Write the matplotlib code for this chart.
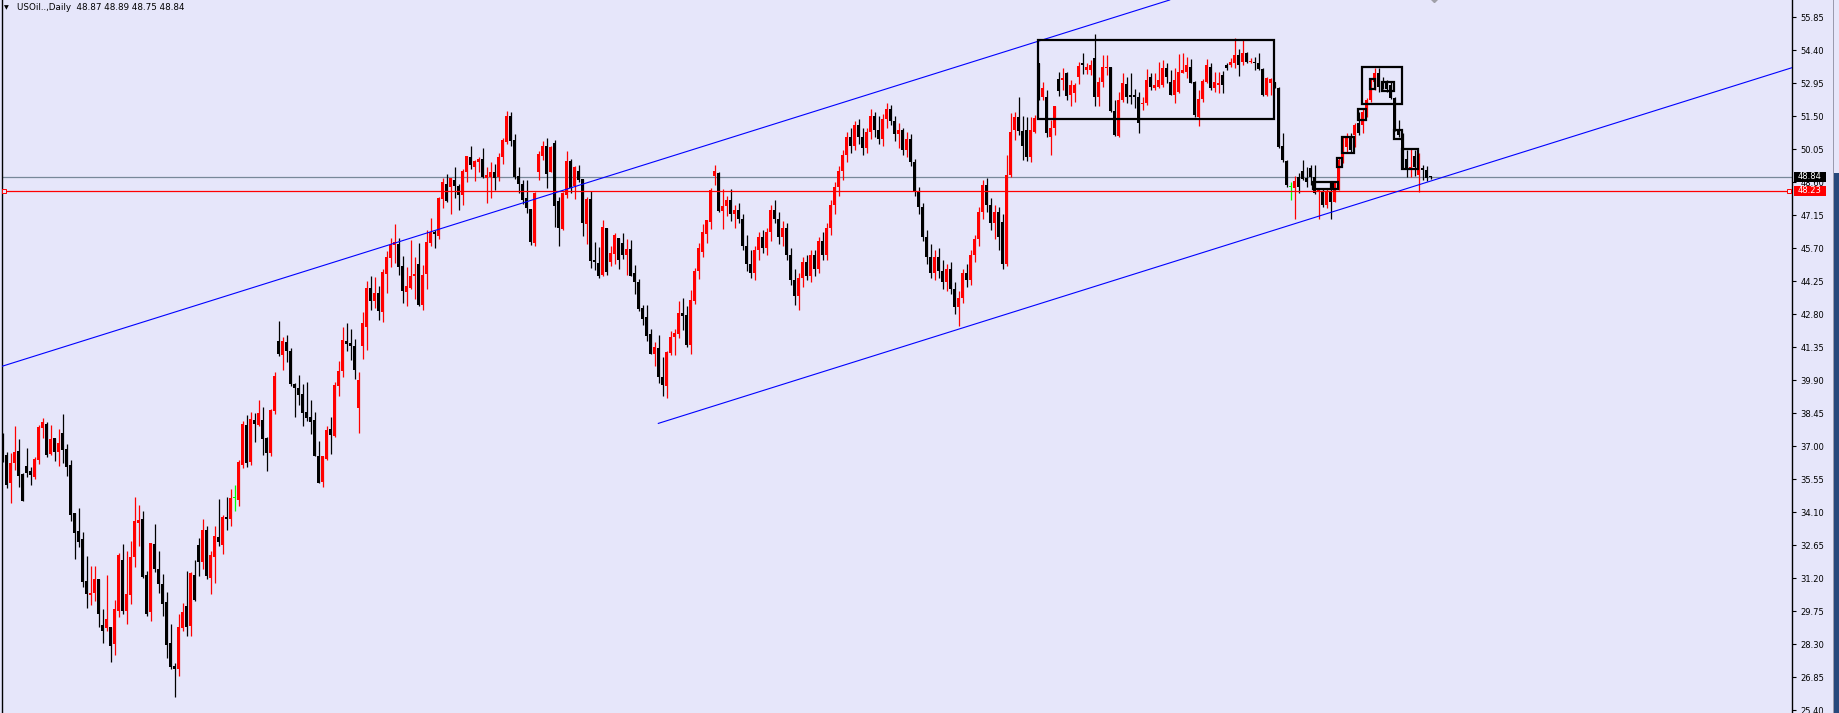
import matplotlib.pyplot as plt
import matplotlib.patches as patches
import matplotlib.transforms as mtransforms
import numpy as np

plt.rcParams['font.family'] = ['DejaVu Sans']

# daily OHLC, oldest first
opens = [
    37.27, 36.61, 35.37, 36.25, 36.79, 35.78, 36.13, 35.92, 35.66, 36.39,
    37.80, 37.97, 36.66, 37.36, 36.76, 37.58, 36.88, 36.17, 34.06, 33.27,
    32.92, 31.07, 30.47, 30.56, 31.16, 29.12, 29.01, 29.04, 28.30, 29.77,
    32.00, 29.77, 30.46, 32.13, 33.61, 33.80, 31.34, 29.71, 32.70, 31.60,
    30.94, 30.15, 28.35, 27.34, 27.22, 29.01, 29.97, 29.10, 31.34, 32.66,
    31.91, 33.32, 31.21, 32.13, 33.01, 32.66, 33.89, 33.80, 34.71, 34.64,
    36.17, 37.93, 36.30, 38.15, 37.93, 38.15, 37.36, 36.70, 38.54, 41.62,
    41.01, 41.58, 41.18, 39.73, 39.55, 39.29, 38.50, 38.28, 38.15, 36.57,
    35.42, 36.43, 37.75, 37.45, 39.64, 40.30, 41.62, 41.53, 41.40, 38.68,
    41.40, 42.23, 43.95, 43.38, 43.73, 42.89, 44.56, 45.27, 45.84, 45.88,
    44.91, 43.77, 43.95, 44.47, 45.00, 43.20, 44.56, 45.92, 46.41, 46.23,
    47.86, 48.52, 48.39, 48.69, 48.43, 48.03, 49.05, 49.70, 49.27, 49.49,
    49.62, 48.79, 48.83, 49.05, 48.83, 49.71, 50.37, 51.50, 50.46, 48.88,
    48.53, 47.91, 47.43, 45.93, 49.05, 49.76, 50.20, 49.05, 50.33, 47.78,
    46.55, 48.04, 49.54, 48.44, 49.10, 48.75, 46.77, 47.87, 45.19, 45.05,
    44.53, 46.59, 45.10, 45.45, 46.15, 45.93, 45.41, 45.67, 44.61, 44.22,
    43.08, 42.68, 41.93, 41.05, 41.32, 40.04, 39.65, 41.10, 41.80, 41.93,
    42.86, 42.77, 41.45, 43.38, 44.70, 45.54, 46.33, 46.86, 48.88, 49.01,
    47.34, 47.56, 47.80, 47.20, 47.40, 47.00, 45.80, 45.00, 44.60, 45.60,
    46.20, 45.70, 46.40, 47.40, 47.00, 46.20, 46.60, 45.40, 44.30, 43.60,
    44.40, 45.10, 44.50, 45.40, 44.80, 46.00, 45.40, 46.60, 47.60, 48.40,
    49.10, 49.80, 50.60, 50.20, 51.10, 50.60, 50.10, 50.80, 51.50, 50.90,
    50.50, 51.40, 51.80, 51.30, 50.70, 50.90, 50.00, 50.50, 49.50, 48.20,
    47.50, 46.20, 45.30, 44.60, 45.30, 44.70, 44.20, 44.80, 43.90, 43.10,
    43.50, 44.60, 44.30, 45.40, 46.10, 47.30, 48.50, 47.60, 46.80, 47.30,
    46.87, 45.00, 48.92, 50.89, 51.48, 50.86, 50.89, 49.72, 50.82, 53.83,
    52.33, 52.33, 50.60, 50.97, 53.12, 53.09, 53.39, 52.43, 52.51, 53.21,
    53.83, 53.53, 53.53, 54.05, 52.36, 53.02, 53.60, 53.68, 51.74, 50.63,
    52.21, 52.92, 52.43, 52.43, 52.36, 52.04, 52.07, 53.21, 52.73, 52.80,
    52.87, 53.60, 53.02, 52.43, 52.58, 53.41, 53.46, 53.68, 53.02, 51.48,
    52.24, 53.02, 53.68, 52.73, 52.87, 53.31, 53.75, 53.75, 53.83, 54.19,
    53.90, 54.26, 53.88, 53.90, 53.85, 53.56, 52.43, 52.95, 53.02, 52.73,
    50.19, 49.55, 48.37, 48.33, 48.84, 49.11, 48.77, 49.21, 48.84, 48.18,
    48.18, 47.60, 48.18, 47.74, 48.55, 49.58, 50.16, 50.63, 50.68, 51.19,
    51.11, 51.63, 52.21, 53.02, 53.39, 53.02, 52.98, 52.87, 52.29, 50.89,
    50.68, 49.61, 49.24, 49.75, 48.92, 49.21, 49.14, 48.87,
]
highs = [
    37.57, 36.76, 36.69, 37.89, 37.30, 35.81, 36.93, 36.10, 36.54, 37.93,
    38.24, 38.06, 37.93, 37.36, 37.76, 38.41, 37.10, 36.39, 34.06, 34.27,
    33.24, 32.17, 31.73, 31.73, 31.16, 29.83, 31.35, 29.04, 30.24, 32.32,
    32.70, 32.39, 32.83, 34.77, 34.42, 34.15, 31.51, 32.74, 33.58, 32.39,
    31.38, 30.59, 29.19, 27.47, 29.62, 30.11, 31.51, 31.47, 32.00, 32.96,
    33.80, 33.49, 32.39, 33.49, 34.68, 33.98, 34.77, 35.12, 35.29, 36.39,
    38.11, 38.37, 38.50, 38.46, 39.03, 38.72, 37.40, 38.63, 40.26, 42.50,
    41.80, 41.88, 41.31, 39.77, 40.13, 39.73, 39.82, 39.03, 38.50, 37.22,
    36.57, 37.88, 38.28, 39.82, 40.74, 42.24, 42.41, 42.15, 41.71, 40.26,
    42.90, 44.25, 44.47, 44.43, 44.03, 44.78, 45.57, 46.14, 46.76, 46.14,
    45.35, 44.87, 46.06, 45.31, 45.92, 44.96, 46.50, 47.02, 46.50, 47.95,
    48.78, 48.96, 48.78, 49.27, 48.52, 49.18, 49.75, 50.19, 49.57, 49.70,
    50.10, 49.27, 49.49, 49.41, 49.89, 50.55, 51.75, 51.70, 50.72, 49.27,
    48.70, 48.70, 47.43, 48.17, 49.98, 50.42, 50.55, 50.20, 50.46, 47.96,
    48.17, 49.98, 49.63, 49.32, 49.36, 48.75, 47.96, 48.22, 45.98, 45.76,
    46.94, 46.59, 45.80, 46.37, 46.15, 46.37, 46.11, 46.06, 44.97, 44.35,
    43.21, 43.21, 42.15, 41.58, 41.89, 40.92, 41.19, 42.06, 42.15, 43.38,
    43.51, 43.16, 43.87, 44.83, 45.93, 46.77, 46.94, 48.35, 49.36, 49.05,
    48.31, 48.00, 48.30, 47.60, 47.70, 47.20, 46.30, 45.60, 45.80, 46.40,
    46.50, 46.60, 47.60, 47.80, 47.30, 46.90, 46.80, 45.70, 44.80, 44.60,
    45.30, 45.40, 45.60, 45.60, 46.20, 46.40, 46.80, 47.80, 48.60, 49.30,
    50.00, 50.80, 51.00, 51.30, 51.40, 51.00, 51.00, 51.80, 51.70, 51.50,
    51.60, 52.10, 52.00, 51.50, 51.20, 51.00, 50.80, 50.70, 49.60, 48.40,
    47.70, 46.50, 45.90, 45.60, 45.70, 45.20, 45.00, 45.10, 44.20, 43.80,
    44.80, 45.00, 45.60, 46.30, 47.50, 48.70, 48.80, 47.90, 47.60, 47.50,
    47.20, 49.80, 51.63, 51.70, 52.33, 51.51, 51.48, 51.48, 51.55, 53.83,
    53.02, 52.65, 51.34, 51.95, 53.46, 53.60, 53.46, 53.09, 52.95, 53.90,
    54.26, 53.85, 53.97, 55.11, 53.24, 54.19, 54.19, 53.68, 52.21, 52.58,
    53.41, 53.24, 53.41, 52.68, 52.58, 52.36, 53.56, 53.39, 53.41, 53.90,
    53.97, 53.83, 53.53, 53.60, 54.24, 54.26, 54.12, 54.00, 53.05, 52.65,
    53.12, 54.00, 53.83, 53.46, 53.43, 53.50, 53.83, 54.05, 54.92, 54.44,
    54.85, 54.34, 54.05, 54.12, 54.29, 53.60, 53.24, 53.17, 53.02, 52.80,
    50.75, 49.58, 48.62, 48.87, 48.99, 49.58, 49.28, 49.36, 49.36, 48.33,
    48.33, 48.33, 48.55, 48.64, 49.65, 50.60, 50.75, 50.75, 51.19, 51.70,
    51.80, 52.29, 53.12, 53.60, 53.60, 53.21, 53.09, 53.02, 52.36, 51.34,
    50.75, 50.02, 50.09, 50.02, 49.87, 49.36, 49.32, 48.89,
]
lows = [
    36.32, 35.15, 34.52, 35.95, 35.22, 34.61, 35.66, 35.29, 35.57, 36.22,
    37.37, 36.54, 36.61, 36.35, 36.14, 36.28, 35.69, 33.73, 32.04, 32.58,
    30.82, 29.90, 30.03, 30.21, 29.07, 28.33, 28.89, 27.53, 27.82, 29.51,
    29.62, 29.19, 30.06, 31.69, 32.61, 31.21, 29.54, 29.33, 31.47, 30.55,
    29.54, 27.69, 27.21, 25.99, 26.90, 28.88, 28.66, 28.66, 30.20, 31.30,
    31.60, 31.16, 30.50, 30.99, 32.61, 32.26, 33.32, 33.49, 34.15, 34.37,
    36.04, 36.08, 36.17, 37.18, 37.88, 36.61, 35.91, 36.57, 38.41, 40.96,
    40.35, 40.70, 39.64, 38.28, 38.81, 37.88, 38.10, 37.53, 36.57, 35.38,
    35.20, 36.39, 36.65, 37.40, 39.20, 40.04, 41.18, 40.79, 39.95, 37.58,
    40.83, 41.22, 42.98, 43.07, 42.54, 42.45, 43.73, 44.87, 45.05, 44.52,
    43.29, 43.16, 43.90, 43.46, 43.16, 42.98, 43.90, 45.79, 45.70, 46.10,
    47.46, 47.73, 47.20, 47.90, 47.38, 47.60, 48.61, 49.18, 48.65, 49.05,
    48.78, 47.69, 47.91, 48.26, 48.66, 49.41, 50.29, 50.20, 48.75, 48.13,
    47.65, 47.25, 45.85, 45.80, 48.70, 49.58, 48.35, 49.05, 46.64, 45.80,
    46.51, 47.91, 48.13, 47.87, 48.61, 46.24, 45.89, 44.83, 44.75, 44.39,
    44.48, 44.53, 44.92, 45.01, 44.79, 45.23, 44.53, 44.48, 43.69, 42.94,
    42.33, 41.62, 41.05, 40.53, 39.78, 39.21, 39.12, 41.01, 41.01, 41.76,
    42.11, 41.36, 41.05, 43.25, 44.35, 45.32, 45.93, 46.55, 48.48, 47.30,
    46.55, 47.10, 46.90, 46.60, 46.80, 45.60, 44.70, 44.40, 44.30, 45.20,
    45.50, 45.40, 46.00, 46.80, 45.90, 45.80, 45.20, 44.10, 43.20, 43.00,
    44.00, 44.30, 44.20, 44.50, 44.60, 45.20, 45.20, 46.30, 47.20, 48.00,
    48.70, 49.50, 49.90, 50.00, 50.30, 49.80, 49.90, 50.50, 50.60, 50.30,
    50.20, 51.00, 51.10, 50.40, 50.10, 49.80, 49.70, 49.30, 48.00, 47.20,
    46.00, 45.00, 44.40, 44.30, 44.40, 43.90, 43.80, 43.70, 42.80, 42.30,
    43.30, 44.00, 44.10, 45.10, 45.80, 47.00, 47.30, 46.50, 46.10, 45.60,
    44.80, 44.90, 48.84, 50.46, 50.68, 49.58, 49.55, 49.50, 50.75, 52.21,
    52.21, 50.60, 49.80, 50.68, 52.39, 52.65, 52.21, 51.95, 52.14, 52.92,
    53.36, 53.34, 53.31, 51.95, 51.95, 52.80, 53.31, 51.70, 50.63, 50.60,
    52.14, 52.07, 52.02, 51.85, 50.78, 51.77, 51.99, 52.65, 52.65, 52.73,
    52.80, 52.95, 52.43, 52.10, 52.51, 53.39, 53.17, 52.95, 51.48, 51.07,
    52.14, 52.95, 52.65, 52.58, 52.54, 52.54, 53.53, 53.68, 53.60, 53.27,
    53.75, 53.83, 53.83, 53.53, 53.53, 52.39, 52.39, 52.43, 52.73, 50.09,
    49.50, 48.40, 47.82, 46.97, 48.11, 48.70, 48.40, 48.48, 48.08, 46.97,
    47.52, 47.45, 46.97, 47.74, 48.26, 49.43, 49.94, 49.90, 50.16, 50.68,
    50.75, 51.48, 52.14, 52.65, 52.58, 52.68, 52.58, 52.24, 50.86, 50.60,
    49.17, 48.84, 48.84, 48.87, 48.15, 48.70, 48.67, 48.75,
]
closes = [
    36.54, 35.29, 36.25, 36.76, 35.69, 34.61, 35.84, 35.75, 36.44, 37.86,
    38.06, 36.61, 37.30, 36.76, 37.15, 36.83, 36.10, 33.98, 33.20, 32.80,
    31.04, 30.52, 30.56, 31.16, 29.62, 28.89, 29.40, 28.22, 29.83, 32.22,
    29.77, 30.50, 32.13, 33.71, 33.76, 31.25, 29.62, 32.74, 31.60, 30.94,
    30.06, 28.26, 27.29, 27.22, 29.05, 29.71, 29.05, 31.44, 30.24, 31.91,
    33.32, 31.30, 32.22, 33.05, 32.79, 33.89, 33.80, 34.72, 34.71, 36.31,
    37.97, 36.26, 38.19, 37.97, 38.46, 37.31, 36.70, 38.59, 40.08, 41.05,
    41.62, 41.18, 39.73, 39.55, 39.25, 38.46, 38.24, 38.06, 36.57, 35.38,
    36.57, 37.71, 37.49, 39.69, 40.30, 41.66, 41.49, 41.40, 40.35, 39.91,
    42.41, 43.95, 43.38, 43.73, 42.94, 44.65, 45.31, 45.84, 45.97, 44.87,
    43.82, 44.03, 44.47, 44.56, 43.20, 44.52, 45.97, 46.41, 46.32, 47.90,
    48.61, 47.77, 48.78, 48.43, 48.03, 49.09, 49.75, 49.35, 49.53, 49.62,
    48.83, 48.92, 49.05, 48.79, 49.71, 50.46, 51.50, 50.43, 48.83, 48.53,
    47.82, 47.47, 45.98, 48.13, 49.85, 50.20, 48.97, 50.15, 47.56, 46.59,
    48.13, 49.54, 48.35, 49.27, 48.70, 46.81, 47.87, 45.14, 45.10, 44.48,
    46.64, 44.66, 45.49, 46.28, 45.19, 45.41, 45.67, 44.48, 44.22, 43.03,
    42.59, 41.84, 41.05, 41.36, 40.04, 39.69, 41.14, 41.80, 41.98, 42.86,
    42.72, 41.45, 43.43, 44.70, 45.71, 46.42, 46.94, 48.26, 49.10, 47.34,
    47.56, 47.80, 47.20, 47.40, 47.00, 45.80, 45.00, 44.60, 45.60, 46.20,
    45.70, 46.40, 47.40, 47.00, 46.20, 46.60, 45.40, 44.30, 43.60, 44.40,
    45.10, 44.50, 45.40, 44.80, 46.00, 45.40, 46.60, 47.60, 48.40, 49.10,
    49.80, 50.60, 50.20, 51.10, 50.60, 50.10, 50.80, 51.50, 50.90, 50.50,
    51.40, 51.80, 51.30, 50.70, 50.90, 50.00, 50.50, 49.50, 48.20, 47.50,
    46.20, 45.30, 44.60, 45.30, 44.70, 44.20, 44.80, 43.90, 43.10, 43.50,
    44.60, 44.30, 45.40, 46.10, 47.30, 48.50, 47.60, 46.80, 47.30, 46.20,
    45.00, 48.92, 50.79, 51.48, 50.86, 50.19, 49.72, 50.89, 51.41, 52.33,
    52.73, 50.75, 50.97, 51.95, 52.62, 53.17, 52.39, 52.87, 52.87, 53.71,
    53.77, 53.68, 53.75, 52.36, 53.02, 53.68, 53.68, 51.74, 50.68, 52.21,
    52.95, 52.36, 52.33, 52.36, 51.19, 52.10, 53.09, 52.80, 52.87, 53.09,
    53.60, 53.24, 52.43, 53.09, 53.46, 53.53, 53.75, 52.98, 51.55, 52.24,
    53.05, 53.75, 52.73, 53.02, 52.95, 52.87, 53.60, 53.90, 54.19, 53.75,
    54.26, 53.90, 53.93, 53.85, 53.56, 52.43, 53.17, 53.12, 52.73, 50.16,
    49.58, 48.48, 48.37, 48.65, 48.40, 48.73, 48.62, 48.84, 48.11, 48.26,
    47.60, 48.18, 47.74, 48.55, 49.58, 50.53, 50.63, 50.02, 51.11, 50.75,
    51.70, 52.21, 53.09, 53.39, 52.80, 52.80, 52.68, 52.29, 50.89, 50.68,
    49.21, 49.21, 49.28, 49.28, 49.28, 49.14, 48.78, 48.84,
]

price_ticks = [25.40, 26.85, 28.30, 29.75, 31.20, 32.65, 34.10, 35.55, 37.00,
               38.45, 39.90, 41.35, 42.80, 44.25, 45.70, 47.15, 48.60, 50.05,
               51.50, 52.95, 54.40, 55.85]
last_price = 48.84
level_price = 48.23
header = 'USOil..,Daily  48.87 48.89 48.75 48.84'

# trend lines: (bar index, price) anchor pairs
upper_line = [(59.3, 43.79), (249.3, 54.27)]
lower_line = [(163.9, 38.00), (389.75, 50.46)]

# rectangles: bar from, bar to, price low, price high
boxes = [
    (258.9, 317.8, 51.37, 54.85),
    (339.75, 349.9, 52.04, 53.68),
    (327.6, 332.0, 48.29, 48.62),
    (332.65, 333.9, 48.29, 48.62),
    (333.65, 334.9, 49.28, 49.65),
    (334.75, 337.9, 49.87, 50.60),
    (338.75, 340.9, 51.34, 51.81),
    (341.75, 343.1, 52.69, 53.12),
    (344.75, 347.9, 52.61, 52.99),
    (347.75, 349.9, 50.49, 50.90),
    (349.75, 353.9, 49.18, 50.05),
]

BG = '#E6E6FA'
W, H = 1839, 713

fig = plt.figure(figsize=(W / 100, H / 100), dpi=100, facecolor=BG)
ax = fig.add_axes([1.5 / W, 0, 1790.5 / W, 1])
ax.set_facecolor(BG)

o = np.array(opens)
hi = np.array(highs)
lo = np.array(lows)
c = np.array(closes)
x = np.arange(len(c))

colors = np.where(c > o, '#FF0000', np.where(c < o, '#000000', '#00FF00'))
ax.vlines(x, lo, hi, colors=colors, lw=0.9, zorder=2)
body_bottom = np.minimum(o, c)
body_h = np.maximum(np.abs(c - o), 0.045)
ax.bar(x, body_h, bottom=body_bottom, width=0.82, color=colors, linewidth=0, zorder=2)

xmin, xmax = -0.3, 447.3
ax.set_xlim(xmin, xmax)
ax.set_ylim(25.27, 56.61)

# horizontal levels
ax.axhline(last_price, color='#778899', lw=0.9, zorder=1)
ax.axhline(level_price, color='#FF0000', lw=0.9, zorder=3)
ax.plot([0.2, 446.65], [level_price, level_price], ls='none', marker='s', ms=2.6,
        mfc=BG, mec='#FF0000', mew=0.7, zorder=4, clip_on=False)

# channel lines
ax.axline(upper_line[0], upper_line[1], color='#0000FF', lw=0.8, zorder=3)
(x0, y0), (x1, y1) = lower_line
slope = (y1 - y0) / (x1 - x0)
ax.plot([x0, xmax], [y0, y0 + slope * (xmax - x0)], color='#0000FF', lw=0.8, zorder=3)

for b0, b1, p0, p1 in boxes:
    ax.add_patch(patches.Rectangle((b0, p0), b1 - b0, p1 - p0, fill=False,
                                   ec='black', lw=1.6, zorder=4))

ax.plot([357.8], [56.72], marker='D', ms=5, color='#A0A0A8', zorder=4)

# axes styling
for side in ['top', 'bottom']:
    ax.spines[side].set_visible(False)
ax.spines['left'].set_linewidth(1.0)
ax.spines['right'].set_linewidth(1.0)
ax.set_xticks([])
ax.yaxis.tick_right()
ax.set_yticks(price_ticks)
ax.set_yticklabels([f'{p:.2f}' for p in price_ticks])
ax.tick_params(axis='y', direction='out', length=3, width=0.8, labelsize=6.0,
               pad=3, colors='black')

# price tags on the scale
trans = mtransforms.blended_transform_factory(ax.transAxes, ax.transData)
ax_w = 1790.5
for price, fc in [(last_price, '#000000'), (level_price, '#FF0000')]:
    ax.add_patch(patches.Rectangle((1 + 2.3 / ax_w, price - 0.22), 31.5 / ax_w, 0.44,
                                   transform=trans, fc=fc, ec='none',
                                   clip_on=False, zorder=5))
    ax.text(1 + 5.5 / ax_w, price, f'{price:.2f}', transform=trans, color='white',
            fontsize=6.0, va='center', ha='left', zorder=6, clip_on=False)

# header
fig.text(3.5 / W, 1 - 7.5 / H, '▼', fontsize=4.5, va='center', ha='left')
fig.text(17 / W, 1 - 8 / H, header, fontsize=6.3, va='center', ha='left')

# window edge on the far right
fig.patches.append(patches.Rectangle((1833 / W, 0), 6 / W, (H - 173) / H,
                                     transform=fig.transFigure, fc='#27497C', ec='none'))
fig.patches.append(patches.Rectangle((1833 / W, 0), 1 / W, 1,
                                     transform=fig.transFigure, fc='#9A9AAE', ec='none'))

fig.savefig('out.png', dpi=100, facecolor=BG)
